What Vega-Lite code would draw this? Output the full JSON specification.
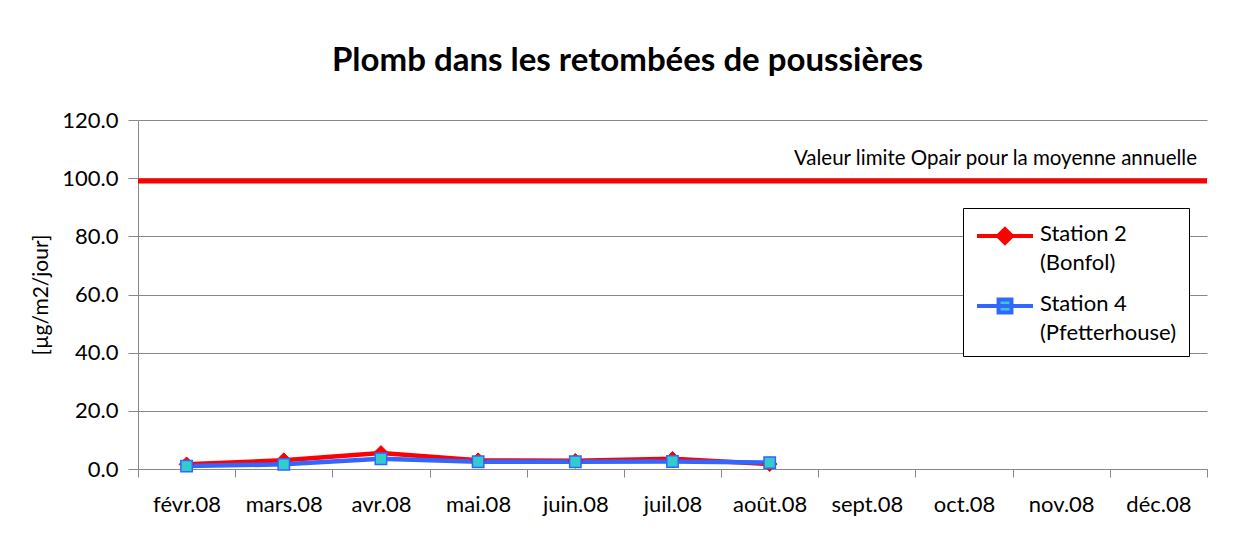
{
  "$schema": "https://vega.github.io/schema/vega-lite/v6.json",
  "width": 1069,
  "height": 349,
  "autosize": "none",
  "padding": {"left": 138, "top": 120, "right": 30, "bottom": 76},
  "background": "white",
  "config": {"font": "Lato", "view": {"stroke": null}},
  "title": {
    "text": "Plomb dans les retombées de poussières",
    "fontSize": 33,
    "fontWeight": "bold",
    "color": "black",
    "anchor": "middle",
    "dx": -45,
    "offset": 31
  },
  "datasets": {
    "series": [
      {"month": "févr.08", "station": "Station 2|(Bonfol)", "value": 1.6},
      {"month": "mars.08", "station": "Station 2|(Bonfol)", "value": 3.0},
      {"month": "avr.08", "station": "Station 2|(Bonfol)", "value": 5.5},
      {"month": "mai.08", "station": "Station 2|(Bonfol)", "value": 3.0},
      {"month": "juin.08", "station": "Station 2|(Bonfol)", "value": 2.8},
      {"month": "juil.08", "station": "Station 2|(Bonfol)", "value": 3.5},
      {"month": "août.08", "station": "Station 2|(Bonfol)", "value": 1.7},
      {"month": "févr.08", "station": "Station 4|(Pfetterhouse)", "value": 1.0},
      {"month": "mars.08", "station": "Station 4|(Pfetterhouse)", "value": 1.6},
      {"month": "avr.08", "station": "Station 4|(Pfetterhouse)", "value": 3.5},
      {"month": "mai.08", "station": "Station 4|(Pfetterhouse)", "value": 2.5},
      {"month": "juin.08", "station": "Station 4|(Pfetterhouse)", "value": 2.5},
      {"month": "juil.08", "station": "Station 4|(Pfetterhouse)", "value": 2.6},
      {"month": "août.08", "station": "Station 4|(Pfetterhouse)", "value": 2.2}
    ],
    "limit": [
      {"month": "déc.08", "value": 99, "label": "Valeur limite Opair pour la moyenne annuelle"}
    ]
  },
  "encoding": {
    "x": {
      "field": "month",
      "type": "nominal",
      "bandPosition": 0.5,
      "scale": {
        "type": "band",
        "domain": ["févr.08", "mars.08", "avr.08", "mai.08", "juin.08", "juil.08", "août.08", "sept.08", "oct.08", "nov.08", "déc.08"],
        "paddingInner": 0,
        "paddingOuter": 0
      },
      "axis": {
        "title": null,
        "labelAngle": 0,
        "labelFontSize": 22,
        "labelColor": "black",
        "labelPadding": 17,
        "tickBand": "extent",
        "tickSize": 8,
        "tickColor": "#888888",
        "domainColor": "#888888",
        "grid": false
      }
    }
  },
  "layer": [
    {
      "data": {"name": "limit"},
      "mark": {"type": "rule", "color": "#FF0000", "strokeWidth": 5},
      "encoding": {
        "x": null,
        "y": {"field": "value", "type": "quantitative"}
      }
    },
    {
      "data": {"name": "limit"},
      "mark": {"type": "text", "align": "right", "baseline": "alphabetic", "dx": -10, "dy": -16, "fontSize": 20.5, "color": "black"},
      "encoding": {
        "x": {"field": "month", "type": "nominal", "bandPosition": 1},
        "y": {"field": "value", "type": "quantitative"},
        "text": {"field": "label"}
      }
    },
    {
      "data": {"name": "series"},
      "mark": {"type": "line", "strokeWidth": 4.5},
      "encoding": {
        "y": {
          "field": "value",
          "type": "quantitative",
          "scale": {"domain": [0, 120]},
          "axis": {
            "title": "[µg/m2/jour]",
            "titleFontSize": 21,
            "titleFontWeight": "normal",
            "titleColor": "black",
            "titlePadding": 10,
            "values": [0, 20, 40, 60, 80, 100, 120],
            "format": ".1f",
            "labelFontSize": 22,
            "labelColor": "black",
            "labelPadding": 10,
            "tickSize": 10,
            "tickColor": "#888888",
            "domainColor": "#888888",
            "gridColor": "#888888",
            "grid": true
          }
        },
        "color": {
          "field": "station",
          "type": "nominal",
          "scale": {"range": ["#FF0000", "#3366FF"]},
          "legend": {
            "title": null,
            "orient": "none",
            "legendX": 825,
            "legendY": 88,
            "strokeColor": "black",
            "fillColor": "white",
            "padding": 12,
            "labelFontSize": 22,
            "labelColor": "black",
            "labelExpr": "split(datum.label, '|')",
            "labelOffset": 33,
            "rowPadding": 16,
            "symbolSize": 784,
            "symbolStrokeWidth": 4,
            "symbolOpacity": 1,
            "encode": {
              "labels": {"update": {"dy": {"value": -2}, "lineHeight": {"value": 29}}},
              "symbols": {
                "update": {
                  "shape": {"signal": "indexof(datum.value, 'Station 2') === 0 ? 'M-1,0L3,0M0.5,0L1,-0.5L1.5,0L1,0.5Z' : 'M-1,0L3,0M0.54,-0.46L1.46,-0.46L1.46,0.46L0.54,0.46Z'"},
                  "fill": {"signal": "indexof(datum.value, 'Station 2') === 0 ? '#FF0000' : '#33CCCC'"},
                  "stroke": {"signal": "indexof(datum.value, 'Station 2') === 0 ? '#FF0000' : '#3366FF'"}
                }
              }
            }
          }
        }
      }
    },
    {
      "data": {"name": "series"},
      "transform": [{"filter": "indexof(datum.station, 'Station 2') === 0"}],
      "mark": {"type": "point", "shape": "diamond", "filled": true, "size": 220, "fill": "#FF0000", "stroke": "#FF0000", "strokeWidth": 1, "opacity": 1},
      "encoding": {
        "y": {"field": "value", "type": "quantitative"}
      }
    },
    {
      "data": {"name": "series"},
      "transform": [{"filter": "indexof(datum.station, 'Station 4') === 0"}],
      "mark": {"type": "point", "shape": "square", "filled": true, "size": 130, "fill": "#33CCCC", "stroke": "#3366FF", "strokeWidth": 1.5, "opacity": 1},
      "encoding": {
        "y": {"field": "value", "type": "quantitative"}
      }
    }
  ]
}
